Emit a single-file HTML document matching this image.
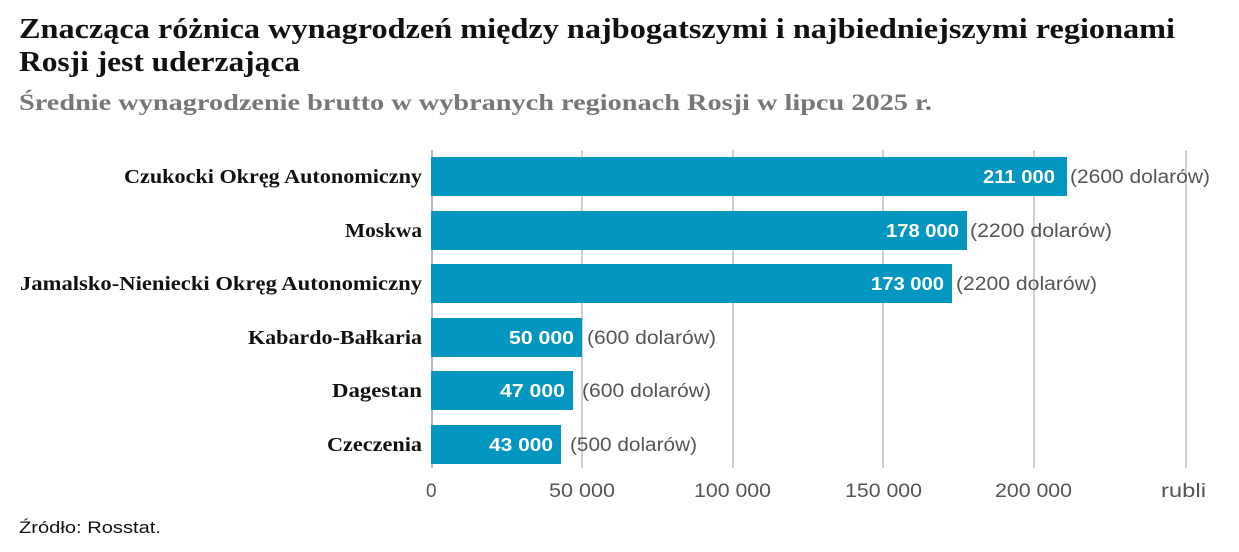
<!DOCTYPE html>
<html><head><meta charset="utf-8"><style>
body{margin:0;background:#fff;width:1239px;height:552px;overflow:hidden}
svg{display:block}
.t{font-family:"Liberation Serif",serif;font-weight:bold}
.s{font-family:"Liberation Sans",sans-serif}
</style></head><body>
<svg width="1239" height="552" xmlns="http://www.w3.org/2000/svg">
<text x="19" y="38" class="t" font-size="28" fill="#111" textLength="1156" lengthAdjust="spacingAndGlyphs">Znacząca różnica wynagrodzeń między najbogatszymi i najbiedniejszymi regionami</text>
<text x="19" y="71" class="t" font-size="28" fill="#111" textLength="281" lengthAdjust="spacingAndGlyphs">Rosji jest uderzająca</text>
<text x="19" y="110" class="t" font-size="23" fill="#777" textLength="913" lengthAdjust="spacingAndGlyphs">Średnie wynagrodzenie brutto w wybranych regionach Rosji w lipcu 2025 r.</text>
<g stroke="#d0d0d0" stroke-width="2">
<line x1="582" y1="150" x2="582" y2="468"/><line x1="733" y1="150" x2="733" y2="468"/>
<line x1="883" y1="150" x2="883" y2="468"/><line x1="1034" y1="150" x2="1034" y2="468"/>
<line x1="1186" y1="150" x2="1186" y2="468"/>
</g>
<line x1="432" y1="150" x2="432" y2="468" stroke="#bbb" stroke-width="2"/>
<g fill="#0396c0">
<rect x="431" y="157" width="636" height="39"/>
<rect x="431" y="211" width="536" height="39"/>
<rect x="431" y="264" width="521" height="39"/>
<rect x="431" y="318" width="151" height="39"/>
<rect x="431" y="371" width="142" height="39"/>
<rect x="431" y="425" width="130" height="39"/>
</g>
<g class="t" font-size="20" fill="#111">
<text x="124" y="183" textLength="298" lengthAdjust="spacingAndGlyphs">Czukocki Okręg Autonomiczny</text>
<text x="345" y="237" textLength="77" lengthAdjust="spacingAndGlyphs">Moskwa</text>
<text x="20" y="290" textLength="402" lengthAdjust="spacingAndGlyphs">Jamalsko-Nieniecki Okręg Autonomiczny</text>
<text x="248" y="344" textLength="174" lengthAdjust="spacingAndGlyphs">Kabardo-Bałkaria</text>
<text x="332" y="397" textLength="90" lengthAdjust="spacingAndGlyphs">Dagestan</text>
<text x="327" y="451" textLength="95" lengthAdjust="spacingAndGlyphs">Czeczenia</text>
</g>
<g class="s" font-weight="bold" font-size="18" fill="#fff">
<text x="983" y="183" textLength="72" lengthAdjust="spacingAndGlyphs">211 000</text>
<text x="886" y="237" textLength="73" lengthAdjust="spacingAndGlyphs">178 000</text>
<text x="871" y="290" textLength="73" lengthAdjust="spacingAndGlyphs">173 000</text>
<text x="509" y="344" textLength="65" lengthAdjust="spacingAndGlyphs">50 000</text>
<text x="500" y="397" textLength="65" lengthAdjust="spacingAndGlyphs">47 000</text>
<text x="489" y="451" textLength="64" lengthAdjust="spacingAndGlyphs">43 000</text>
</g>
<g class="s" font-size="19" fill="#555">
<text x="1070" y="183" textLength="140" lengthAdjust="spacingAndGlyphs">(2600 dolarów)</text>
<text x="970" y="237" textLength="142" lengthAdjust="spacingAndGlyphs">(2200 dolarów)</text>
<text x="956" y="290" textLength="141" lengthAdjust="spacingAndGlyphs">(2200 dolarów)</text>
<text x="587" y="344" textLength="129" lengthAdjust="spacingAndGlyphs">(600 dolarów)</text>
<text x="582" y="397" textLength="129" lengthAdjust="spacingAndGlyphs">(600 dolarów)</text>
<text x="570" y="451" textLength="127" lengthAdjust="spacingAndGlyphs">(500 dolarów)</text>
</g>
<g class="s" font-size="19" fill="#555">
<text x="426" y="497">0</text>
<text x="549" y="497" textLength="66" lengthAdjust="spacingAndGlyphs">50 000</text>
<text x="694" y="497" textLength="77" lengthAdjust="spacingAndGlyphs">100 000</text>
<text x="845" y="497" textLength="77" lengthAdjust="spacingAndGlyphs">150 000</text>
<text x="995" y="497" textLength="77" lengthAdjust="spacingAndGlyphs">200 000</text>
<text x="1161" y="497" textLength="45" lengthAdjust="spacingAndGlyphs">rubli</text>
</g>
<text x="19" y="533" class="s" font-size="17" fill="#111" textLength="142" lengthAdjust="spacingAndGlyphs">Źródło: Rosstat.</text>
</svg>
</body></html>
